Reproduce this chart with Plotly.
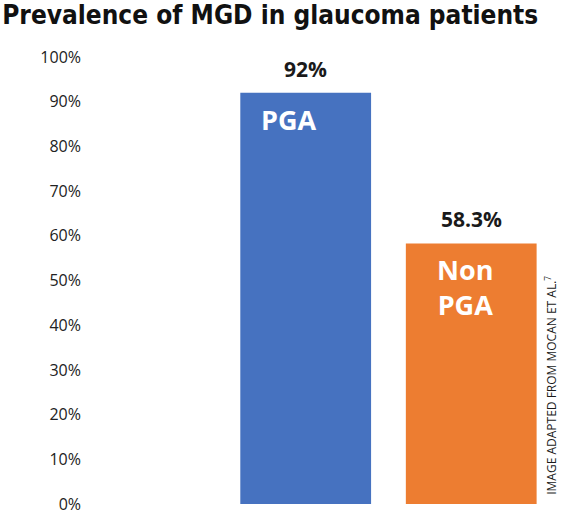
import plotly.graph_objects as go

groups = ["PGA", "Non PGA"]
group_labels = ["PGA", "Non<br>PGA"]
prevalence = [92, 58.3]
value_labels = ["92%", "58.3%"]
bar_colors = ["#4672C0", "#ED7D31"]
y_ticks = list(range(0, 101, 10))
y_tick_text = [f"{v}%" for v in y_ticks]

# small horizontal nudges for the in-bar labels (they sit a bit left of centre)
inner_shift = [-17, -6]

fig = go.Figure()
fig.add_trace(go.Bar(
    x=groups,
    y=prevalence,
    marker={'color': bar_colors, 'line': {'width': 0}},
    showlegend=False,
    hoverinfo="skip",
))

for g, lab, val, v, dx in zip(groups, group_labels, value_labels, prevalence, inner_shift):
    # value above the bar
    fig.add_annotation(
        x=g, y=v, xref="x", yref="y",
        text=f"<b>{val}</b>",
        showarrow=False,
        xanchor="center", yanchor="bottom",
        yshift=8,
        font={'family': "Open Sans", 'size': 21, 'color': "#1a1a1a"},
    )
    # group name inside the top of the bar
    fig.add_annotation(
        x=g, y=v, xref="x", yref="y",
        text=f"<b>{lab}</b>",
        showarrow=False,
        xanchor="center", yanchor="top",
        xshift=dx, yshift=-6,
        align="center",
        font={'family': "Open Sans", 'size': 27, 'color': "white"},
    )

fig.add_annotation(
    x=1.0, y=0.015, xref="paper", yref="paper",
    text="IMAGE ADAPTED FROM MOCAN ET AL.<sup>7</sup>",
    textangle=-90,
    showarrow=False,
    xanchor="center", yanchor="bottom",
    xshift=-3,
    font={'family': "Open Sans", 'size': 12, 'color': "#1a1a1a"},
)

fig.update_layout(
    width=562,
    height=515,
    margin={'l': 88, 'r': 8, 't': 57, 'b': 11, 'autoexpand': False},
    paper_bgcolor="white",
    plot_bgcolor="white",
    bargap=0.21,
    title={
        'text': "<b>Prevalence of MGD in glaucoma patients</b>",
        'x': 0.004, 'xanchor': "left",
        'y': 0.989, 'yanchor': "top",
        'font': {'family': "DejaVu Sans Condensed", 'size': 26, 'color': "#111111"},
    },
    xaxis={
        'type': "category",
        'range': [-1.315, 1.5],
        'showticklabels': False,
        'showgrid': False,
        'zeroline': False,
        'showline': False,
        'automargin': False,
    },
    yaxis={
        'range': [0, 100],
        'tickvals': y_ticks,
        'ticktext': y_tick_text,
        'showgrid': False,
        'zeroline': False,
        'showline': False,
        'automargin': False,
        'ticklabelstandoff': 6,
        'tickfont': {'family': "Open Sans", 'size': 16, 'color': "#222222"},
    },
)

# page has a default 8px body margin; drop it so the figure fills the window
fig.write_html(
    "out.html",
    config={'displayModeBar': False},
    post_script="document.body.style.margin='0';",
)
